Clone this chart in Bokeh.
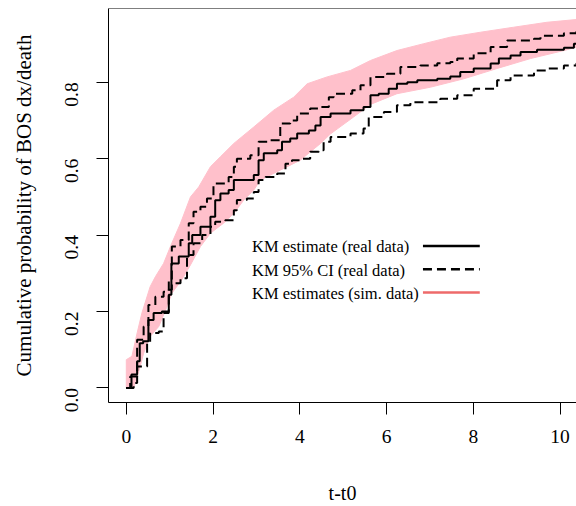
import math
from bokeh.plotting import figure
from bokeh.models import Range1d, FixedTicker, Span, Label, Arrow, PrintfTickFormatter
from bokeh.embed import file_html
from bokeh.resources import INLINE

# ---------------- data ----------------
# KM estimate (real data): event times and cumulative probability
km_t = [0, 0.12, 0.25, 0.31, 0.39, 0.51, 0.63, 0.82, 0.98, 1.04,
        1.21, 1.44, 1.52, 1.71, 1.94, 2.05, 2.17, 2.36, 2.48, 2.94,
        3.05, 3.17, 3.48, 3.59, 3.78, 3.94, 4.21, 4.36, 4.48, 4.71,
        5.17, 5.47, 5.63, 5.82, 6.05, 6.24, 6.48, 6.71, 7.17, 7.47,
        7.70, 8.01, 8.40, 8.59, 8.86, 9.09, 9.47, 10.09, 10.32, 10.45]
km_f = [0, 0.035, 0.07, 0.117, 0.122, 0.178, 0.196, 0.20, 0.244, 0.326,
        0.344, 0.379, 0.40, 0.422, 0.448, 0.491, 0.509, 0.518, 0.544, 0.557,
        0.596, 0.614, 0.622, 0.644, 0.653, 0.666, 0.674, 0.687, 0.709, 0.718,
        0.727, 0.735, 0.766, 0.770, 0.783, 0.796, 0.80, 0.805, 0.809, 0.815,
        0.827, 0.836, 0.849, 0.862, 0.870, 0.879, 0.885, 0.890, 0.901, 0.901]

# KM 95% CI, upper bound
ci_up_t = [0, 0.09, 0.25, 0.40, 0.51, 0.67, 0.86, 0.98, 1.05, 1.25,
           1.44, 1.55, 1.71, 1.86, 2.01, 2.36, 2.48, 2.55, 2.86, 3.05,
           3.25, 3.55, 3.78, 3.94, 4.24, 4.48, 4.67, 4.78, 5.21, 5.40,
           5.63, 6.01, 6.32, 6.78, 7.17, 7.47, 7.63, 8.01, 8.40, 8.78,
           9.40, 9.55, 10.09, 10.38, 10.45]
ci_up_f = [0, 0.030, 0.126, 0.161, 0.217, 0.239, 0.252, 0.283, 0.37, 0.387,
           0.431, 0.461, 0.474, 0.496, 0.535, 0.552, 0.579, 0.60, 0.609, 0.644,
           0.648, 0.692, 0.70, 0.718, 0.731, 0.735, 0.761, 0.770, 0.779, 0.792,
           0.814, 0.822, 0.840, 0.844, 0.850, 0.853, 0.862, 0.876, 0.892, 0.909,
           0.914, 0.922, 0.928, 0.934, 0.934]

# KM 95% CI, lower bound
ci_lo_t = [0, 0.17, 0.25, 0.48, 0.55, 0.75, 0.86, 0.98, 1.05, 1.25,
           1.40, 1.55, 1.75, 1.94, 2.05, 2.28, 2.48, 2.55, 2.78, 2.94,
           3.05, 3.21, 3.48, 3.67, 3.82, 4.01, 4.24, 4.44, 4.55, 4.71,
           5.17, 5.47, 5.59, 5.94, 6.24, 6.55, 7.24, 7.63, 8.01, 8.55,
           8.86, 9.40, 9.70, 10.09, 10.38, 10.45]
ci_lo_f = [0, 0.013, 0.056, 0.117, 0.144, 0.148, 0.196, 0.257, 0.274, 0.287,
           0.348, 0.379, 0.40, 0.422, 0.435, 0.439, 0.465, 0.492, 0.496, 0.513,
           0.544, 0.552, 0.561, 0.587, 0.596, 0.60, 0.618, 0.622, 0.644, 0.657,
           0.666, 0.679, 0.709, 0.722, 0.740, 0.748, 0.757, 0.766, 0.783, 0.805,
           0.818, 0.831, 0.836, 0.844, 0.850, 0.850]

# envelope of the KM estimates on simulated data (upper and lower edge)
sim_up_t = [0, 0.13, 0.25, 0.36, 0.55, 0.67, 0.86, 1.05, 1.25, 1.48,
            1.67, 1.94, 2.17, 2.48, 2.94, 3.40, 3.86, 4.17, 4.63, 5.17,
            5.63, 6.24, 6.86, 7.47, 8.17, 8.93, 9.70, 10.45]
sim_up_f = [0.074, 0.083, 0.144, 0.196, 0.265, 0.291, 0.326, 0.379, 0.431, 0.50,
            0.526, 0.579, 0.605, 0.640, 0.683, 0.727, 0.761, 0.796, 0.814, 0.831,
            0.857, 0.883, 0.901, 0.918, 0.931, 0.944, 0.957, 0.965]
sim_lo_t = [0, 0.17, 0.32, 0.40, 0.55, 0.75, 0.94, 1.05, 1.28, 1.48,
            1.71, 1.94, 2.24, 2.48, 2.71, 2.94, 3.09, 3.55, 4.01, 4.48,
            4.71, 5.24, 5.63, 6.24, 7.01, 7.78, 8.55, 9.32, 10.09, 10.45]
sim_lo_f = [0, 0, 0.056, 0.091, 0.135, 0.161, 0.213, 0.248, 0.283, 0.322,
            0.370, 0.405, 0.431, 0.457, 0.492, 0.518, 0.544, 0.57, 0.596, 0.64,
            0.665, 0.709, 0.742, 0.770, 0.787, 0.809, 0.836, 0.862, 0.883, 0.894]

x_ticks = [0, 2, 4, 6, 8, 10]
y_ticks = [0.0, 0.2, 0.4, 0.6, 0.8]

legend_labels = ["KM estimate (real data)", "KM 95% CI (real data)", "KM estimates (sim. data)"]

# ---------------- figure ----------------
FONT = "Liberation Serif"
PINK = "#FFC0CB"

p = figure(width=576, height=506, output_backend="svg", toolbar_location=None,
           x_range=Range1d(-0.41, 10.38), y_range=Range1d(-0.038, 0.993),
           min_border_left=108, min_border_right=0, min_border_top=8,
           min_border_bottom=103)
p.outline_line_color = None
p.grid.visible = False
p.background_fill_color = "white"
p.border_fill_color = "white"

# pink band of simulated KM curves
band_x = sim_up_t + sim_lo_t[::-1]
band_y = sim_up_f + sim_lo_f[::-1]
p.patch(band_x, band_y, fill_color=PINK, line_color=PINK, line_width=1)

# real-data KM and CI
p.step(km_t, km_f, mode="after", line_color="black", line_width=2)
p.step(ci_up_t, ci_up_f, mode="after", line_color="black", line_width=2, line_dash="9 5")
p.step(ci_lo_t, ci_lo_f, mode="after", line_color="black", line_width=2, line_dash="9 5")

# top border of the box
p.add_layout(Span(location=0.993, dimension="width", line_color="black", line_width=1))

# axes
for ax in (p.xaxis[0], p.yaxis[0]):
    ax.axis_line_color = "black"
    ax.axis_line_width = 1
    ax.major_tick_line_color = "black"
    ax.major_tick_in = 0
    ax.major_tick_out = 12
    ax.minor_tick_line_color = None
    ax.major_label_text_font = FONT
    ax.major_label_text_font_size = "19.5px"
    ax.major_label_text_color = "black"
    ax.axis_label_text_font = FONT
    ax.axis_label_text_font_style = "normal"
    ax.axis_label_text_color = "black"

p.xaxis[0].ticker = FixedTicker(ticks=x_ticks)
p.xaxis[0].major_label_standoff = 15
p.xaxis[0].axis_label = "t-t0"
p.xaxis[0].axis_label_text_font_size = "20px"
p.xaxis[0].axis_label_standoff = 36

p.yaxis[0].ticker = FixedTicker(ticks=y_ticks)
p.yaxis[0].formatter = PrintfTickFormatter(format="%.1f")
p.yaxis[0].major_label_orientation = math.pi / 2
p.yaxis[0].major_label_standoff = 25
p.yaxis[0].axis_label = "Cumulative probability of BOS dx/death"
p.yaxis[0].axis_label_text_font_size = "21px"
p.yaxis[0].axis_label_standoff = 20

# legend (text left, line sample right)
leg_rows_y = [0.3715, 0.3107, 0.2496]
leg_styles = [dict(line_color="black", line_dash="solid"),
              dict(line_color="black", line_dash="9 5"),
              dict(line_color="#EE6A6A", line_dash="solid")]
for lab, yy, st in zip(legend_labels, leg_rows_y, leg_styles):
    p.add_layout(Label(x=2.90, y=yy - 0.002, text=lab, text_font=FONT,
                       text_font_size="16.5px", text_color="black",
                       text_baseline="alphabetic", text_align="left"))
    p.add_layout(Arrow(start=None, end=None, x_start=6.84, y_start=yy,
                       x_end=8.15, y_end=yy, line_width=2.5, **st))

open("out.html", "w").write(file_html(p, INLINE))
